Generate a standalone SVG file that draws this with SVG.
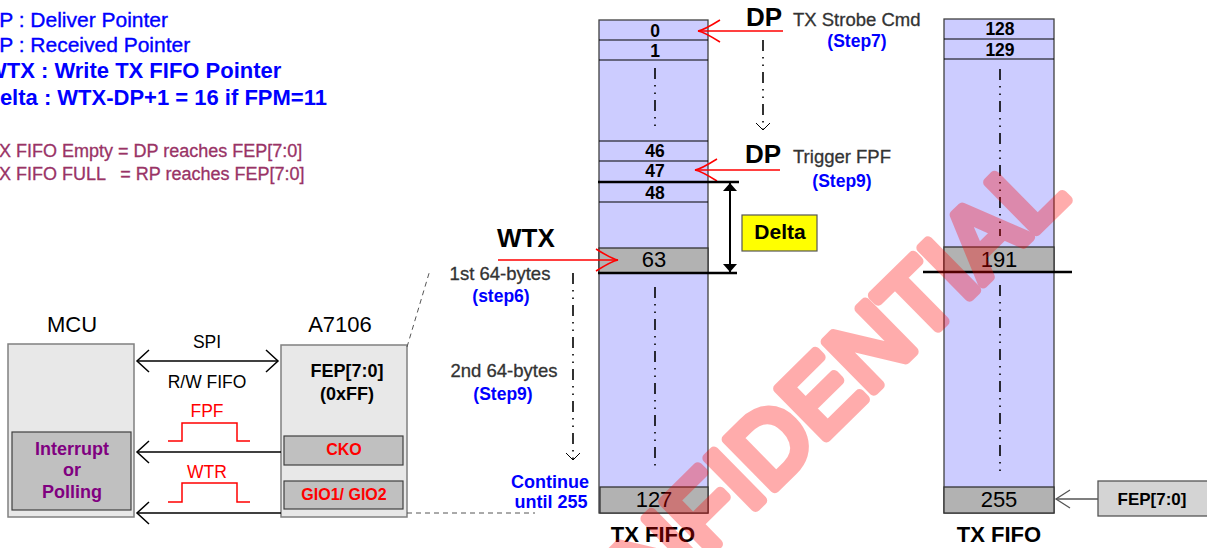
<svg xmlns="http://www.w3.org/2000/svg" width="1207" height="548" viewBox="0 0 1207 548">
<style>
text{font-family:"Liberation Sans",Arial,sans-serif}
.lgb{fill:#0000FF;font-size:21px;stroke:#0000FF;stroke-width:0.35}
.lgbb{fill:#0000FF;font-size:22px;font-weight:bold}
.lgm{fill:#993366;font-size:18px;white-space:pre;stroke:#993366;stroke-width:0.3}
.ttl{font-size:22px;fill:#000;text-anchor:middle}
.box{fill:#E8E8E8;stroke:#808080;stroke-width:1.5}
.inner{fill:#C0C0C0;stroke:#404040;stroke-width:1.2}
.pur{fill:#800080;font-size:18px;font-weight:bold;text-anchor:middle}
.redb{fill:#FF0000;font-size:16px;font-weight:bold;text-anchor:middle}
.sig{fill:#000;font-size:17.5px;text-anchor:middle}
.sigr{fill:#FF0000;font-size:17.5px;text-anchor:middle}
.pulse{fill:none;stroke:#FF0000;stroke-width:1.5}
.col{fill:#CCCCFF;stroke:#404040;stroke-width:1.3}
.gray{fill:#B2B2B2;stroke:#333;stroke-width:1.3}
.row{stroke:#000;stroke-width:1.2}
.thick{stroke:#000;stroke-width:2.5}
.num{font-size:17.5px;font-weight:bold;text-anchor:middle;fill:#000}
.numr{font-size:22px;text-anchor:middle;fill:#000}
.dd{fill:none;stroke:#000;stroke-width:1.6;stroke-dasharray:11 6 1.5 6 1.5 6}
.big{font-size:26px;font-weight:bold;fill:#000}
.note{font-size:18.5px;fill:#333;stroke:#333;stroke-width:0.3}
.step{font-size:17.5px;font-weight:bold;fill:#0000FF;text-anchor:middle}
.cap{font-size:22px;font-weight:bold;fill:#000;text-anchor:middle}
.blk{fill:none;stroke:#000;stroke-width:1.5}
.red{fill:none;stroke:#FF0000;stroke-width:1.5}
.dash{fill:none;stroke:#555;stroke-width:1;stroke-dasharray:5 4}
</style>
<defs>
<marker id="chev" viewBox="-14 -13 16 26" refX="0" refY="0" markerWidth="16" markerHeight="26" markerUnits="userSpaceOnUse" orient="auto-start-reverse">
<path d="M-12,-11 L0,0 L-12,11" fill="none" stroke="#000" stroke-width="1.5"/>
</marker>
<marker id="redhead" viewBox="-24 -13 26 26" refX="0" refY="0" markerWidth="26" markerHeight="26" markerUnits="userSpaceOnUse" orient="auto">
<path d="M-22,-11 Q-6,-1 0,0 Q-6,1 -22,11" fill="none" stroke="#FF0000" stroke-width="1.5"/>
</marker>
<marker id="tri" viewBox="-10 -8 12 16" refX="0" refY="0" markerWidth="12" markerHeight="16" markerUnits="userSpaceOnUse" orient="auto-start-reverse">
<path d="M-8,-7 L0,0 L-8,7 Z" fill="#000"/>
</marker>
<marker id="small" viewBox="-9 -9 11 18" refX="0" refY="0" markerWidth="11" markerHeight="18" markerUnits="userSpaceOnUse" orient="auto">
<path d="M-7,-7 L0,0 L-7,7" fill="none" stroke="#000" stroke-width="1"/>
</marker>
<marker id="grayhead" viewBox="-16 -11 18 22" refX="0" refY="0" markerWidth="18" markerHeight="22" markerUnits="userSpaceOnUse" orient="auto">
<path d="M-14,-9 L0,0 L-14,9" fill="none" stroke="#555" stroke-width="1.3"/>
</marker>
</defs>
<rect width="1207" height="548" fill="#FFFFFF"/>

<g id="legend">
<text class="lgb" x="-16" y="27">DP : Deliver Pointer</text>
<text class="lgb" x="-16" y="52">RP : Received Pointer</text>
<text class="lgbb" x="-14" y="78">WTX : Write TX FIFO Pointer</text>
<text class="lgbb" x="-16" y="105">Delta : WTX-DP+1 = 16 if FPM=11</text>
<text class="lgm" x="-12" y="157">TX FIFO Empty = DP reaches FEP[7:0]</text>
<text class="lgm" x="-12" y="180">TX FIFO FULL   = RP reaches FEP[7:0]</text>
</g>

<g id="mcu">
<text class="ttl" x="72" y="332">MCU</text>
<rect class="box" x="8" y="344" width="126" height="173"/>
<rect class="inner" x="12" y="432" width="119" height="78"/>
<text class="pur" x="72" y="455">Interrupt</text>
<text class="pur" x="72" y="476">or</text>
<text class="pur" x="72" y="498">Polling</text>
</g>

<g id="a7106">
<text class="ttl" x="340" y="332">A7106</text>
<rect class="box" x="281" y="345" width="126" height="172"/>
<text x="347" y="377" style="font-size:18px;font-weight:bold;text-anchor:middle">FEP[7:0]</text>
<text x="347" y="400" style="font-size:18px;font-weight:bold;text-anchor:middle">(0xFF)</text>
<rect class="inner" x="284" y="436" width="119" height="29"/>
<text class="redb" x="344" y="455">CKO</text>
<rect class="inner" x="284" y="481" width="119" height="28"/>
<text class="redb" x="344" y="500">GIO1/ GIO2</text>
</g>

<g id="signals">
<text class="sig" x="207" y="348">SPI</text>
<text class="sig" x="207" y="388">R/W FIFO</text>
<text class="sigr" x="207" y="417">FPF</text>
<path class="pulse" d="M168,441 H182 V423 H237 V441 H250"/>
<text class="sigr" x="207" y="478">WTR</text>
<path class="pulse" d="M168,502 H182 V483 H237 V502 H250"/>
</g>

<g id="fifo1">
<rect class="col" x="599" y="20" width="109" height="493"/>
<line class="row" x1="599" y1="40" x2="708" y2="40"/>
<line class="row" x1="599" y1="60" x2="708" y2="60"/>
<line class="row" x1="599" y1="141" x2="708" y2="141"/>
<line class="row" x1="599" y1="161" x2="708" y2="161"/>
<line class="row" x1="599" y1="202" x2="708" y2="202"/>
<rect class="gray" x="599" y="248" width="109" height="25"/>
<rect class="gray" x="600" y="487" width="108" height="26"/>
<text class="num" x="655" y="37">0</text>
<text class="num" x="655" y="57">1</text>
<text class="num" x="655" y="157">46</text>
<text class="num" x="655" y="177">47</text>
<text class="num" x="655" y="199">48</text>
<text class="numr" x="654" y="267">63</text>
<text class="numr" x="654" y="507">127</text>
<path class="dd" d="M655,68 V132"/>
<path class="dd" d="M655,287 V468"/>
<text class="cap" x="653" y="542">TX FIFO</text>
</g>

<g id="fifo2">
<rect class="col" x="944" y="19" width="110" height="494"/>
<line class="row" x1="944" y1="39" x2="1054" y2="39"/>
<line class="row" x1="944" y1="59" x2="1054" y2="59"/>
<rect class="gray" x="944" y="247" width="110" height="25"/>
<rect class="gray" x="944" y="487" width="110" height="26"/>
<text class="num" x="1000" y="35">128</text>
<text class="num" x="1000" y="56">129</text>
<text class="numr" x="999" y="267">191</text>
<text class="numr" x="999" y="507">255</text>
<path class="dd" d="M1000,69 V236"/>
<path class="dd" d="M1000,285 V474"/>
<text class="cap" x="999" y="542">TX FIFO</text>
</g>

<g id="fep-box">
<rect x="1098" y="481" width="112" height="35" fill="#D4D4D4" stroke="#555" stroke-width="1.3"/>
<text x="1152" y="505" style="font-size:17px;font-weight:bold;text-anchor:middle">FEP[7:0]</text>
</g>

<g id="delta">
<rect x="742" y="215" width="75" height="36" fill="#FFFF00" stroke="#555" stroke-width="1.2"/>
<text x="780" y="239" style="font-size:21px;font-weight:bold;text-anchor:middle">Delta</text>
</g>

<g id="labels">
<text class="big" x="746" y="26">DP</text>
<text class="note" x="793" y="26">TX Strobe Cmd</text>
<text class="step" x="857" y="47">(Step7)</text>
<text class="big" x="745" y="163">DP</text>
<text class="note" x="793" y="163">Trigger FPF</text>
<text class="step" x="842" y="187">(Step9)</text>
<text class="big" x="497" y="247">WTX</text>
<text class="note" x="500" y="280" text-anchor="middle">1st 64-bytes</text>
<text class="step" x="501" y="302">(step6)</text>
<text class="note" x="504" y="377" text-anchor="middle">2nd 64-bytes</text>
<text class="step" x="503" y="400">(Step9)</text>
<text class="step" x="550" y="488" style="font-size:18px">Continue</text>
<text class="step" x="551" y="508" style="font-size:18px">until 255</text>
</g>

<g id="connectors">
<line class="blk" x1="137" y1="361" x2="278" y2="361" marker-start="url(#chev)" marker-end="url(#chev)"/>
<line class="blk" x1="281" y1="452" x2="137" y2="452" marker-end="url(#chev)"/>
<line class="blk" x1="281" y1="513" x2="137" y2="513" marker-end="url(#chev)"/>
<path class="dash" d="M407,347 L430,270"/>
<path class="dash" d="M407,513 L535,513"/>
<line class="red" x1="783" y1="31" x2="698" y2="31" marker-end="url(#redhead)"/>
<line class="red" x1="780" y1="170" x2="695" y2="170" marker-end="url(#redhead)"/>
<line class="red" x1="498" y1="260" x2="618" y2="260" marker-end="url(#redhead)"/>
<path class="dd" d="M763,40 V130" marker-end="url(#small)"/>
<path class="dd" d="M573,273 V460" marker-end="url(#small)"/>
<line class="thick" x1="598" y1="182" x2="739" y2="182"/>
<line class="thick" x1="598" y1="273" x2="737" y2="273"/>
<line class="thick" x1="923" y1="272" x2="1072" y2="272"/>
<line x1="730" y1="183" x2="730" y2="272" stroke="#000" stroke-width="2" marker-start="url(#tri)" marker-end="url(#tri)"/>
<line x1="1098" y1="499" x2="1056" y2="499" stroke="#555" stroke-width="1.3" marker-end="url(#grayhead)"/>
</g>

<g id="watermark" opacity="0.32">
<text transform="translate(547,712) rotate(-44.5)" x="0" y="0" style="font-size:100px;fill:#FF0000;stroke:#FF0000;stroke-width:10;stroke-linejoin:round;stroke-linecap:round">CONFIDENTIAL</text>
</g>
</svg>
